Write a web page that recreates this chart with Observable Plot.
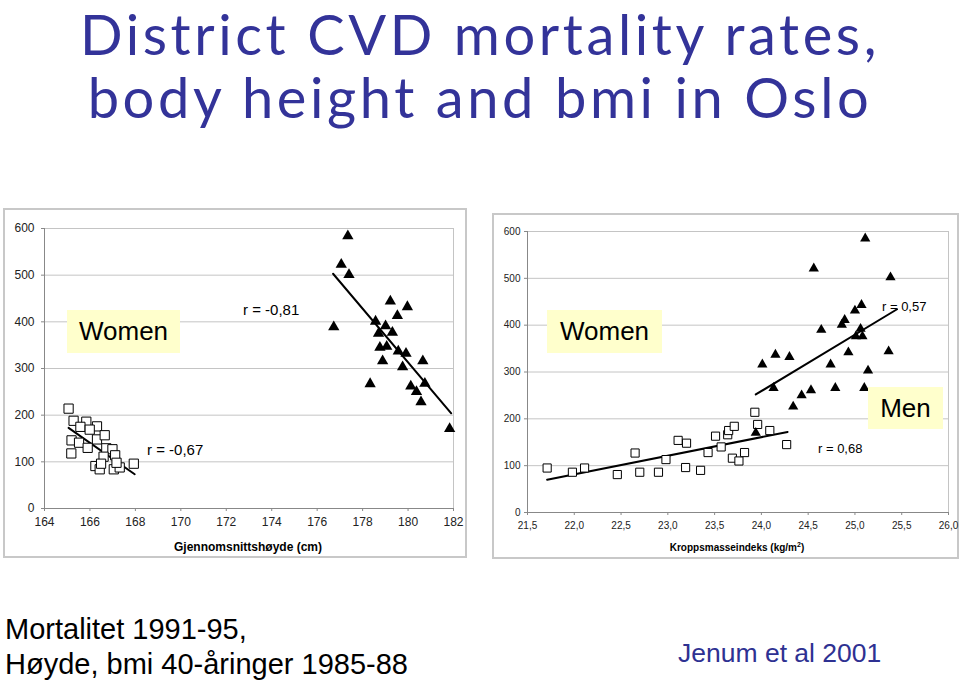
<!DOCTYPE html>
<html>
<head>
<meta charset="utf-8">
<script src="https://cdn.jsdelivr.net/npm/d3@7"></script>
<script src="https://cdn.jsdelivr.net/npm/@observablehq/plot@0.6"></script>
<style>
  html, body { margin: 0; padding: 0; background: #fff; }
  #page { position: relative; width: 960px; height: 683px; overflow: hidden; font-family: "Liberation Sans", Arial, sans-serif; }
  .title { position: absolute; left: 0; width: 960px; text-align: center; color: #333399; font-family: "Comic Sans MS", Lato, sans-serif; font-size: 56px; letter-spacing: 3.6px; line-height: normal; white-space: nowrap; }
  .panel { position: absolute; border: 2px solid #c8c8c8; box-sizing: border-box; }
  .panel svg { position: absolute; left: 0; top: 0; }
  .ann { position: absolute; white-space: nowrap; color: #000; line-height: 1; }
  .box { position: absolute; background: #ffffcc; color: #000; display: flex; align-items: center; justify-content: center; font-size: 26px; }
  .xlab { position: absolute; font-weight: bold; text-align: center; white-space: nowrap; line-height: 1; }
  .foot { position: absolute; font-size: 29px; line-height: 1; white-space: nowrap; color: #000; }
</style>
</head>
<body>
<div id="page">
  <div class="title" style="top:0px;">District CVD mortality rates,</div>
  <div class="title" style="top:63px;">body height and bmi in Oslo</div>

  <div class="panel" id="left" style="left:3px; top:208px; width:464px; height:350px;"></div>
  <div class="panel" id="right" style="left:492px; top:213px; width:467px; height:346px;"></div>

  <div class="box" style="left:67px; top:310px; width:113px; height:43px;">Women</div>
  <div class="ann" style="left:243px; top:302px; font-size:15px;">r = -0,81</div>
  <div class="ann" style="left:147px; top:442px; font-size:15px;">r = -0,67</div>
  <div class="xlab" style="left:148px; top:541px; width:200px; font-size:12px;">Gjennomsnittshøyde (cm)</div>

  <div class="box" style="left:547px; top:310px; width:115px; height:43px;">Women</div>
  <div class="ann" style="left:882px; top:300px; font-size:13px;">r = 0,57</div>
  <div class="box" style="left:868px; top:387px; width:75px; height:42px;">Men</div>
  <div class="ann" style="left:818px; top:442px; font-size:13px;">r = 0,68</div>
  <div class="xlab" style="left:637px; top:541px; width:200px; font-size:10px;">Kroppsmasseindeks (kg/m<sup style="font-size:7px;">2</sup>)</div>

  <div class="foot" style="left:5px; top:615px;">Mortalitet 1991-95,</div>
  <div class="foot" style="left:5px; top:650px;">Høyde, bmi 40-åringer 1985-88</div>
  <div class="foot" style="left:678px; top:640px; color:#2e3192; font-size:26.5px;">Jenum et al 2001</div>
</div>
<script>
// ---------- data ----------
const yTicks = [0, 100, 200, 300, 400, 500, 600];
const heightTicks = [164, 166, 168, 170, 172, 174, 176, 178, 180, 182];
const bmiTicks = [21.5, 22.0, 22.5, 23.0, 23.5, 24.0, 24.5, 25.0, 25.5, 26.0];

// Left panel: body height (cm) vs CVD mortality
const heightWomen = [165.06, 165.28, 165.84, 165.58, 166.31, 165.99, 165.19, 165.52, 165.90, 166.31, 166.65, 165.18, 166.72, 166.99, 167.11, 166.60, 166.24, 166.43, 166.49, 167.05, 167.31, 167.17, 167.93];
const cvdWomenH   = [214, 188, 186, 175, 176, 169, 146, 141, 130, 148, 157, 118, 129, 127, 114, 111, 91, 84, 96, 84, 88, 98, 96];
const heightMen = [177.35, 177.06, 177.40, 176.73, 179.22, 179.97, 178.57, 179.53, 179.01, 178.70, 179.31, 178.76, 179.06, 179.57, 179.91, 178.88, 179.76, 180.65, 178.33, 180.12, 180.74, 180.37, 180.57, 181.83];
const cvdMenH     = [584, 523, 501, 389, 444, 432, 401, 413, 391, 375, 377, 345, 347, 337, 332, 316, 303, 316, 267, 262, 268, 250, 228, 171];
const trendWomenHx = [165.06, 167.97];
const trendWomenHy = [172.7, 73.5];
const trendMenHx = [176.7, 181.9];
const trendMenHy = [503, 204];

// Right panel: BMI vs CVD mortality
const bmiWomen = [21.71, 21.98, 22.11, 22.46, 22.65, 22.70, 22.90, 22.98, 23.11, 23.20, 23.19, 23.35, 23.43, 23.51, 23.57, 23.64, 23.65, 23.71, 23.69, 23.76, 23.82, 23.93, 23.96, 24.09, 24.27];
const cvdWomenB = [95, 86, 95, 81, 127, 86, 86, 113, 154, 148, 96, 90, 128, 163, 140, 166, 175, 184, 116, 110, 128, 214, 188, 175, 145];
const bmiMen = [25.11, 24.56, 25.38, 25.07, 25.00, 24.89, 24.86, 24.64, 25.06, 25.01, 25.08, 24.01, 24.15, 24.30, 24.74, 24.93, 25.36, 25.14, 24.13, 24.34, 24.43, 24.53, 24.79, 25.10, 23.94];
const cvdMenB = [585, 521, 502, 443, 431, 411, 401, 390, 392, 376, 376, 316, 337, 332, 316, 342, 344, 303, 266, 226, 250, 261, 266, 266, 170];
const trendWomenBx = [21.71, 24.28];
const trendWomenBy = [70, 172];
const trendMenBx = [23.94, 25.45];
const trendMenBy = [252, 434];

// ---------- helpers ----------
const pts = (xs, ys) => xs.map((x, i) => ({x, y: ys[i]}));
const fmtComma = d => d.toFixed(1).replace(".", ",");

function panel({width, height, mL, mR, mT, mB, xDomain, xTicks, xFormat, font, r1, r2, tickPad, sqW, sqM, sqLine, menLine, triW, triM}) {
  return Plot.plot({
    width, height,
    marginLeft: mL, marginRight: mR, marginTop: mT, marginBottom: mB,
    x: {domain: xDomain},
    y: {domain: [0, 600]},
    style: {fontFamily: "'Liberation Sans', Arial, sans-serif", fontSize: font + "px", color: "#222", background: "transparent", overflow: "visible"},
    marks: [
      Plot.gridY(yTicks, {stroke: "#c4c4c4", strokeOpacity: 1, strokeWidth: 1}),
      Plot.ruleX([xDomain[1]], {stroke: "#c4c4c4", strokeWidth: 1}),
      Plot.axisY(yTicks, {tickSize: 3, tickPadding: tickPad, label: null, stroke: "#888"}),
      Plot.axisX(xTicks, {tickSize: 3, tickPadding: 6, label: null, tickFormat: xFormat, stroke: "#888"}),
      Plot.ruleX([xDomain[0]], {stroke: "#888", strokeWidth: 1}),
      Plot.ruleY([0], {stroke: "#888", strokeWidth: 1}),
      Plot.line(pts(sqLine[0], sqLine[1]), {x: "x", y: "y", stroke: "#000", strokeWidth: 2}),
      Plot.line(pts(menLine[0], menLine[1]), {x: "x", y: "y", stroke: "#000", strokeWidth: 2}),
      Plot.dot(pts(sqW, sqM), {x: "x", y: "y", symbol: "square", r: r1, fill: "#fff", stroke: "#000", strokeWidth: 1}),
      Plot.dot(pts(triW, triM), {x: "x", y: "y", symbol: "triangle", r: r2, fill: "#000", stroke: "none"})
    ]
  });
}

const leftPlot = panel({
  width: 460, height: 346, mL: 39, mR: 12, mT: 18, mB: 48,
  xDomain: [164, 182], xTicks: heightTicks, xFormat: d => String(d), font: 12,
  r1: 5.2, r2: 4.2, tickPad: 7,
  sqW: heightWomen, sqM: cvdWomenH, sqLine: [trendWomenHx, trendWomenHy], menLine: [trendMenHx, trendMenHy],
  triW: heightMen, triM: cvdMenH
});
document.getElementById("left").appendChild(leftPlot);

const rightPlot = panel({
  width: 463, height: 342, mL: 33, mR: 9, mT: 16, mB: 45,
  xDomain: [21.5, 26.0], xTicks: bmiTicks, xFormat: fmtComma, font: 10,
  r1: 4.6, r2: 3.8, tickPad: 4,
  sqW: bmiWomen, sqM: cvdWomenB, sqLine: [trendWomenBx, trendWomenBy], menLine: [trendMenBx, trendMenBy],
  triW: bmiMen, triM: cvdMenB
});
document.getElementById("right").appendChild(rightPlot);
</script>
</body>
</html>
